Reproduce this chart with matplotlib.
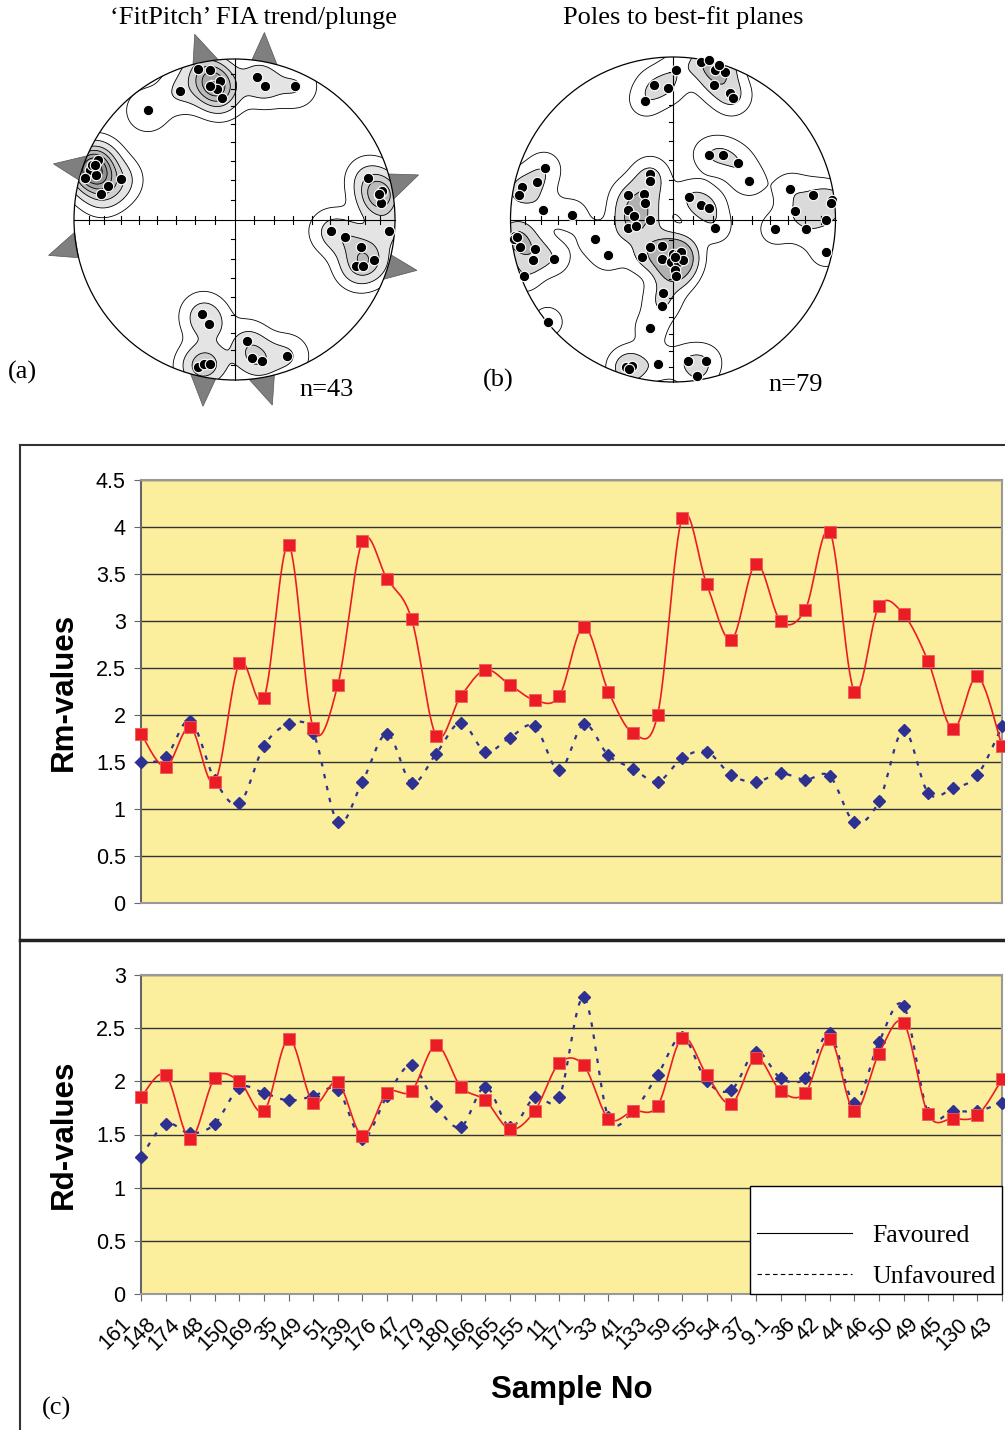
import numpy as np
import matplotlib
matplotlib.use('Agg')
import matplotlib.pyplot as plt
from matplotlib.patches import Circle, Polygon
from matplotlib.lines import Line2D
from matplotlib.transforms import ScaledTranslation

W, H = 1005, 1430

# Sample numbers along the x axis
samples = ['161', '148', '174', '48', '150', '169', '35', '149', '51', '139', '176', '47',
           '179', '180', '166', '165', '155', '11', '171', '33', '41', '133', '59', '55',
           '54', '37', '9.1', '36', '42', '44', '46', '50', '49', '45', '130', '43']

rm_favoured = [1.80, 1.45, 1.87, 1.29, 2.55, 2.18, 3.81, 1.86, 2.32, 3.85, 3.45, 3.02,
               1.78, 2.20, 2.48, 2.32, 2.16, 2.20, 2.94, 2.25, 1.81, 2.00, 4.10, 3.39,
               2.80, 3.61, 3.00, 3.12, 3.95, 2.25, 3.16, 3.07, 2.57, 1.85, 2.41, 1.67]
rm_unfavoured = [1.50, 1.55, 1.94, 1.31, 1.06, 1.67, 1.90, 1.81, 0.86, 1.29, 1.80, 1.28,
                 1.59, 1.92, 1.61, 1.76, 1.88, 1.41, 1.90, 1.57, 1.43, 1.29, 1.54, 1.61,
                 1.36, 1.29, 1.38, 1.31, 1.35, 0.86, 1.08, 1.84, 1.17, 1.22, 1.36, 1.88]

rd_favoured = [1.85, 2.06, 1.46, 2.03, 2.00, 1.72, 2.40, 1.80, 1.99, 1.49, 1.89, 1.91,
               2.34, 1.95, 1.82, 1.55, 1.72, 2.17, 2.15, 1.65, 1.72, 1.77, 2.41, 2.06,
               1.79, 2.22, 1.91, 1.89, 2.40, 1.72, 2.26, 2.55, 1.69, 1.65, 1.68, 2.02]
rd_unfavoured = [1.29, 1.60, 1.51, 1.60, 1.94, 1.89, 1.82, 1.86, 1.92, 1.46, 1.86, 2.15,
                 1.77, 1.57, 1.95, 1.57, 1.85, 1.85, 2.79, 1.66, 1.72, 2.06, 2.42, 2.00,
                 1.92, 2.28, 2.03, 2.03, 2.45, 1.80, 2.37, 2.71, 1.70, 1.72, 1.72, 1.80]

# stereonet (a): FIA trend/plunge, normalised to the primitive circle
fia_points = [(-0.23, 0.94), (-0.15, 0.93), (-0.14, 0.84), (-0.09, 0.86), (-0.11, 0.81),
              (-0.15, 0.83), (-0.08, 0.76), (-0.34, 0.80), (0.14, 0.89), (0.19, 0.83),
              (0.38, 0.83), (-0.54, 0.68),
              (-0.85, 0.37), (-0.88, 0.32), (-0.90, 0.31), (-0.86, 0.28), (-0.93, 0.26),
              (-0.79, 0.21), (-0.71, 0.25), (-0.83, 0.16), (-0.89, 0.34), (-0.87, 0.34),
              (0.83, 0.26), (0.92, 0.18), (0.90, 0.15), (0.91, 0.10), (0.90, 0.16),
              (0.96, -0.07), (0.60, -0.07), (0.69, -0.11), (0.79, -0.17), (0.87, -0.25),
              (0.76, -0.29), (0.80, -0.29),
              (-0.20, -0.59), (-0.16, -0.65), (0.08, -0.76), (0.11, -0.86), (0.17, -0.88),
              (0.33, -0.85), (-0.23, -0.92), (-0.19, -0.90), (-0.15, -0.90)]
# FIA trend markers (degrees, counter-clockwise from east)
fia_trends = [100.4, 79.2, 161.2, 189.2, 11.9, -17.3, 258.7, 279.8]

# stereonet (b): poles to best-fit planes
pole_points = [(0.02, 0.92), (-0.12, 0.83), (-0.03, 0.81), (-0.17, 0.73), (0.17, 0.97),
               (0.22, 0.98), (0.26, 0.92), (0.32, 0.91), (0.25, 0.83), (0.35, 0.78),
               (0.37, 0.75), (0.28, 0.95),
               (0.22, 0.40), (0.31, 0.40), (0.40, 0.35), (0.47, 0.24),
               (0.10, 0.14), (0.17, 0.09), (0.22, 0.07), (0.26, -0.05),
               (0.72, 0.19), (0.86, 0.15), (0.75, 0.05), (0.98, 0.12), (0.94, 0.00),
               (0.63, -0.06), (0.82, -0.06), (0.94, -0.20), (0.97, 0.10),
               (-0.79, 0.32), (-0.84, 0.23), (-0.93, 0.20), (-0.95, 0.15), (-0.80, 0.06),
               (-0.62, 0.03), (-0.97, -0.10), (-0.98, -0.12), (-0.94, -0.17), (-0.85, -0.18),
               (-0.73, -0.24), (-0.86, -0.25), (-0.92, -0.35), (-0.77, -0.63), (-0.96, -0.11),
               (-0.14, 0.28), (-0.14, 0.24), (-0.28, 0.15), (-0.18, 0.16), (-0.17, 0.10),
               (-0.28, 0.06), (-0.24, 0.02), (-0.28, -0.05), (-0.23, -0.04), (-0.14, 0.00),
               (-0.48, -0.12), (-0.40, -0.22), (-0.19, -0.23), (-0.14, -0.17), (-0.07, -0.16),
               (-0.07, -0.24), (0.00, -0.21), (0.03, -0.21), (0.05, -0.20), (-0.01, -0.26),
               (0.03, -0.26), (0.06, -0.25), (0.01, -0.31), (0.02, -0.35), (0.01, -0.23),
               (-0.06, -0.45), (-0.07, -0.53), (-0.14, -0.67),
               (-0.29, -0.91), (-0.25, -0.90), (-0.09, -0.89), (0.09, -0.87), (0.20, -0.87),
               (0.15, -0.96), (-0.27, -0.92)]

YELLOW = '#FBEE9D'
RED = '#EC1C24'
BLUE = '#2E3192'
SANS = 'Liberation Sans'
SERIF = 'Liberation Serif'


def box(x0, y0, x1, y1):
    return [x0 / W, 1 - y1 / H, (x1 - x0) / W, (y1 - y0) / H]


def smooth(x, y, n=16):
    # Catmull-Rom curve through the points (like a spreadsheet "smoothed line")
    x = np.asarray(x, float)
    y = np.asarray(y, float)
    xp = np.concatenate([[x[0]], x, [x[-1]]])
    yp = np.concatenate([[y[0]], y, [y[-1]]])
    t = np.linspace(0, 1, n, endpoint=False)[:, None]
    xs, ys = [], []
    for i in range(1, len(x)):
        for arr, out in ((xp, xs), (yp, ys)):
            p0, p1, p2, p3 = arr[i - 1], arr[i], arr[i + 1], arr[i + 2]
            seg = 0.5 * (2 * p1 + (-p0 + p2) * t + (2 * p0 - 5 * p1 + 4 * p2 - p3) * t ** 2
                         + (-p0 + 3 * p1 - 3 * p2 + p3) * t ** 3)
            out.extend(seg.ravel())
    xs.append(x[-1])
    ys.append(y[-1])
    return np.array(xs), np.array(ys)


def stereonet(ax, cx, cy, R, pts, sigma, levels, greys, trends=None):
    pts = np.array(pts)
    g = np.linspace(-1.08, 1.08, 320)
    X, Y = np.meshgrid(g, g)
    Z = np.zeros_like(X)
    for px, py in pts:
        Z += np.exp(-((X - px) ** 2 + (Y - py) ** 2) / (2 * sigma ** 2))
    PX, PY = cx + X * R, cy - Y * R
    clip = Circle((cx, cy), R, transform=ax.transData)
    cf = ax.contourf(PX, PY, Z, levels=levels + [Z.max() + 1], colors=greys, zorder=2)
    cl = ax.contour(PX, PY, Z, levels=levels, colors='black', linewidths=0.6, zorder=3)
    cf.set_clip_path(clip)
    cl.set_clip_path(clip)

    if trends is not None:
        for th in trends:
            a = np.radians(th)
            d = 0.08
            base1 = (cx + R * np.cos(a - d), cy - R * np.sin(a - d))
            base2 = (cx + R * np.cos(a + d), cy - R * np.sin(a + d))
            tip = (cx + 1.18 * R * np.cos(a + 0.03), cy - 1.18 * R * np.sin(a + 0.03))
            ax.add_patch(Polygon([base1, tip, base2], closed=True, fc='#7f7f7f',
                                 ec='#555555', lw=0.5, zorder=1))

    # primitive circle and cross with 10 degree equal-area ticks
    ax.add_patch(Circle((cx, cy), R, fc='none', ec='black', lw=0.9, zorder=5))
    ax.plot([cx - R, cx + R], [cy, cy], color='black', lw=0.8, zorder=5)
    ax.plot([cx, cx], [cy - R, cy + R], color='black', lw=0.8, zorder=5)
    radii = np.sqrt(2) * np.sin(np.radians(90 - np.arange(10, 90, 10)) / 2)
    tl = 4
    for r in radii:
        for s in (-1, 1):
            ax.plot([cx + s * r * R] * 2, [cy - tl, cy + tl], color='black', lw=0.8, zorder=5)
            ax.plot([cx - tl, cx], [cy + s * r * R] * 2, color='black', lw=0.8, zorder=5)

    ax.plot(cx + pts[:, 0] * R, cy - pts[:, 1] * R, 'o', color='black', ms=7.5,
            mec='white', mew=0.8, zorder=6)


fig = plt.figure(figsize=(W / 100, H / 100), dpi=100)

bg = fig.add_axes([0, 0, 1, 1])
bg.set_xlim(0, W)
bg.set_ylim(H, 0)
bg.axis('off')

# --- stereonets ---
stereonet(bg, 234.5, 219.5, 160.5, fia_points, 0.085,
          [0.3, 1.0, 2.0, 3.0, 4.0, 5.0, 6.0],
          ['white', '#e4e4e4', '#cfcfcf', '#bababa', '#a5a5a5', '#909090', '#7a7a7a'],
          trends=fia_trends)
stereonet(bg, 673, 219.5, 162.5, pole_points, 0.075,
          [0.5, 1.6, 3.2],
          ['white', '#dadada', '#b0b0b0'])

tf = 19
bg.text(254, 18, '\u2018FitPitch\u2019 FIA trend/plunge', family=SERIF, fontsize=tf,
        ha='center', va='center')
bg.text(683, 18, 'Poles to best-fit planes', family=SERIF, fontsize=tf,
        ha='center', va='center')
bg.text(8, 372, '(a)', family=SERIF, fontsize=tf, va='center')
bg.text(299, 390, 'n=43', family=SERIF, fontsize=tf, va='center')
bg.text(483, 380, '(b)', family=SERIF, fontsize=tf, va='center')
bg.text(768, 385, 'n=79', family=SERIF, fontsize=tf, va='center')
bg.text(42, 1408, '(c)', family=SERIF, fontsize=tf, va='center')

# chart frame
bg.plot([20, W], [445, 445], color='#333333', lw=1.5)
bg.plot([20, 20], [445, H], color='#333333', lw=1.5)
bg.plot([20, W], [940, 940], color='#222222', lw=2.5)

x = np.arange(len(samples))


def style_chart(ax, ymax):
    ax.set_facecolor(YELLOW)
    ax.set_xlim(0, len(samples) - 1)
    ax.set_ylim(0, ymax)
    yt = np.arange(0, ymax + 0.01, 0.5)
    ax.set_yticks(yt)
    ax.set_yticklabels([f'{v:g}' for v in yt], family=SANS, fontsize=15.5)
    ax.yaxis.grid(True, color='#333333', lw=1.0)
    ax.set_axisbelow(True)
    for s in ('top', 'right', 'bottom'):
        ax.spines[s].set_color('#999999')
        ax.spines[s].set_linewidth(1.5)
    ax.spines['left'].set_color('#666666')
    ax.spines['left'].set_linewidth(1.5)
    ax.tick_params(axis='y', direction='out', length=5, color='#666666', pad=6)


def draw_series(ax, fav, unfav):
    sx, sy = smooth(x, unfav)
    ax.plot(sx, sy, color=BLUE, lw=1.6, ls=(0, (2, 3.5)), zorder=3)
    ax.plot(x, unfav, 'D', color=BLUE, ms=6.5, zorder=4, clip_on=False)
    sx, sy = smooth(x, fav)
    ax.plot(sx, sy, color=RED, lw=1.2, zorder=5)
    ax.plot(x, fav, 's', color=RED, ms=9, mec='#F0595F', mew=0.6, zorder=6, clip_on=False)


ax1 = fig.add_axes(box(141, 480, 1002, 903))
style_chart(ax1, 4.5)
ax1.set_xticks([])
draw_series(ax1, rm_favoured, rm_unfavoured)
ax1.set_ylabel('Rm-values', family=SANS, fontsize=22.5, fontweight='bold')
ax1.yaxis.set_label_coords(-0.072, 0.5)

ax2 = fig.add_axes(box(141, 975, 1002, 1294))
style_chart(ax2, 3)
ax2.set_xticks(x)
ax2.set_xticklabels(samples, family=SANS, fontsize=15.5, rotation=45,
                    ha='right', va='center', rotation_mode='anchor')
ax2.tick_params(axis='x', direction='out', length=5, color='#666666', pad=6)
shift = ScaledTranslation(-0.13, -0.12, fig.dpi_scale_trans)
for lab in ax2.get_xticklabels():
    lab.set_transform(lab.get_transform() + shift)
draw_series(ax2, rd_favoured, rd_unfavoured)
ax2.set_ylabel('Rd-values', family=SANS, fontsize=22.5, fontweight='bold')
ax2.yaxis.set_label_coords(-0.072, 0.5)

handles = [Line2D([], [], color='black', lw=0.8),
           Line2D([], [], color='black', lw=0.8, ls=(0, (4, 3)))]
leg = ax2.legend(handles, ['Favoured', 'Unfavoured'], loc='lower right',
                 bbox_to_anchor=(1, 0), prop={'family': SERIF, 'size': 18.5},
                 frameon=True, fancybox=False, edgecolor='black', framealpha=1,
                 borderaxespad=0, handlelength=3.7, handletextpad=0.8,
                 labelspacing=0.7, borderpad=0.25, title=' ',
                 title_fontproperties={'family': SERIF, 'size': 11})
leg.get_frame().set_linewidth(1.0)
leg.set_zorder(10)

bg.text(572, 1390, 'Sample No', family=SANS, fontsize=22.5, fontweight='bold',
        ha='center', va='center')

plt.savefig('out.png', dpi=100)
plt.close()
